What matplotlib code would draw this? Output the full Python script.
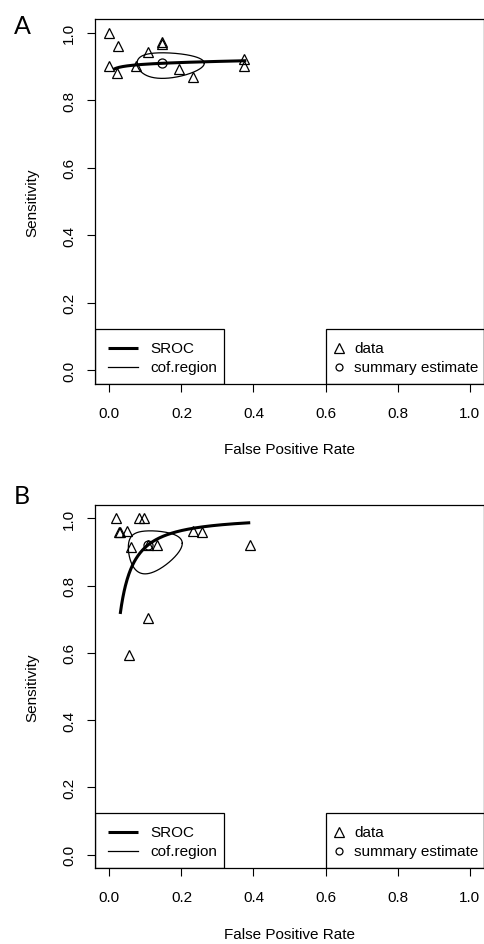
import numpy as np
import matplotlib
matplotlib.use("Agg")
import matplotlib.pyplot as plt
from matplotlib.patches import Rectangle

plt.rcParams['font.family'] = ['Liberation Sans', 'DejaVu Sans']

# ---------------- Data ----------------
# Panel A study points (false positive rate, sensitivity)
a_fpr = [0.000, 0.025, 0.000, 0.020, 0.074, 0.106, 0.147, 0.147, 0.194, 0.232, 0.373, 0.374]
a_sens = [1.000, 0.961, 0.900, 0.880, 0.900, 0.943, 0.973, 0.965, 0.892, 0.869, 0.921, 0.900]
a_summary = (0.147, 0.909)
# SROC (logit-linear) parameters and plotting range
a_sroc_slope = 0.075
a_sroc_range = (0.011, 0.38)
# confidence region in logit space: sd fpr, sd sens, correlation
a_region = (0.73, 0.45, 0.0)

# Panel B study points
b_fpr = [0.0185, 0.027, 0.030, 0.050, 0.060, 0.081, 0.096, 0.106, 0.131, 0.232, 0.256, 0.391, 0.106, 0.055]
b_sens = [1.000, 0.959, 0.960, 0.963, 0.915, 1.000, 1.000, 0.920, 0.920, 0.963, 0.961, 0.922, 0.703, 0.595]
b_summary = (0.106, 0.920)
b_sroc_slope = 1.13
b_sroc_range = (0.03, 0.391)
b_region = (0.76, 0.82, 0.1)

x_ticks = [0.0, 0.2, 0.4, 0.6, 0.8, 1.0]
y_ticks = [0.0, 0.2, 0.4, 0.6, 0.8, 1.0]


def logit(p):
    p = np.asarray(p, dtype=float)
    return np.log(p / (1 - p))


def expit(z):
    return 1 / (1 + np.exp(-z))


fig = plt.figure(figsize=(4.85, 9.45), dpi=100)
axA = fig.add_axes([95 / 485, 1 - 385 / 945, 389 / 485, 365 / 945])
axB = fig.add_axes([95 / 485, 1 - 869 / 945, 389 / 485, 363 / 945])


def draw(ax, fpr, sens, summary, slope, rng, region, letter, letter_y, xlab_y):
    ax.set_xlim(-0.04, 1.04)
    ax.set_ylim(-0.04, 1.04)
    # SROC curve
    mf, ms = logit(summary[0]), logit(summary[1])
    xs = np.linspace(rng[0], rng[1], 300)
    ys = expit(ms + slope * (logit(xs) - mf))
    ax.plot(xs, ys, color='black', lw=2.2, solid_capstyle='butt', zorder=3)
    # confidence region
    sf, ss, r = region
    t = np.linspace(0, 2 * np.pi, 400)
    ex = expit(mf + sf * np.cos(t))
    ey = expit(ms + ss * (r * np.cos(t) + np.sqrt(1 - r * r) * np.sin(t)))
    ax.plot(ex, ey, color='black', lw=0.9, zorder=3)
    # data
    ax.plot(fpr, sens, linestyle='none', marker='^', ms=7, mfc='none', mec='black', mew=0.9, zorder=4)
    ax.plot([summary[0]], [summary[1]], linestyle='none', marker='o', ms=6.5, mfc='none', mec='black', mew=0.9, zorder=4)

    # legends (bottom left, bottom right)
    top = 0.124
    ax.add_patch(Rectangle((-0.04, -0.04), 0.358, top + 0.04, fill=False, lw=0.9, ec='black', zorder=5))
    ax.plot([-0.004, 0.078], [0.066, 0.066], color='black', lw=2.2, solid_capstyle='butt', zorder=5)
    ax.plot([-0.004, 0.078], [0.011, 0.011], color='black', lw=0.9, zorder=5)
    ax.text(0.114, 0.066, 'SROC', fontsize=11, va='center', ha='left')
    ax.text(0.114, 0.011, 'cof.region', fontsize=11, va='center', ha='left')
    ax.add_patch(Rectangle((0.60, -0.04), 0.44, top + 0.04, fill=False, lw=0.9, ec='black', zorder=5))
    ax.plot([0.638], [0.066], linestyle='none', marker='^', ms=7, mfc='none', mec='black', mew=0.9)
    ax.plot([0.638], [0.011], linestyle='none', marker='o', ms=5, mfc='none', mec='black', mew=0.9)
    ax.text(0.68, 0.066, 'data', fontsize=11, va='center', ha='left')
    ax.text(0.68, 0.011, 'summary estimate', fontsize=11, va='center', ha='left')

    ax.set_xticks(x_ticks)
    ax.set_xticklabels([f'{v:.1f}' for v in x_ticks])
    ax.set_yticks(y_ticks)
    ax.set_yticklabels([f'{v:.1f}' for v in y_ticks], rotation=90, va='center')
    ax.tick_params(axis='both', direction='out', length=5.5, width=0.8, labelsize=11, color='black')
    ax.tick_params(axis='x', pad=10)
    ax.tick_params(axis='y', pad=8)
    for s in ax.spines.values():
        s.set_linewidth(0.9)
    ax.set_xlabel('False Positive Rate', fontsize=11)
    ax.set_ylabel('Sensitivity', fontsize=11)
    ax.xaxis.set_label_coords(0.5, xlab_y)
    ax.yaxis.set_label_coords(-0.16, 0.5)
    ax.xaxis.label.set_va('center')
    ax.yaxis.label.set_va('center')
    fig.text(22 / 485, 1 - letter_y / 945, letter, fontsize=18, ha='center', va='center',
             family=['Lato', 'DejaVu Sans'])


draw(axA, a_fpr, a_sens, a_summary, a_sroc_slope, a_sroc_range, a_region, 'A', 26, -0.178)
draw(axB, b_fpr, b_sens, b_summary, b_sroc_slope, b_sroc_range, b_region, 'B', 497, -0.182)

fig.savefig('out.png', dpi=100)
